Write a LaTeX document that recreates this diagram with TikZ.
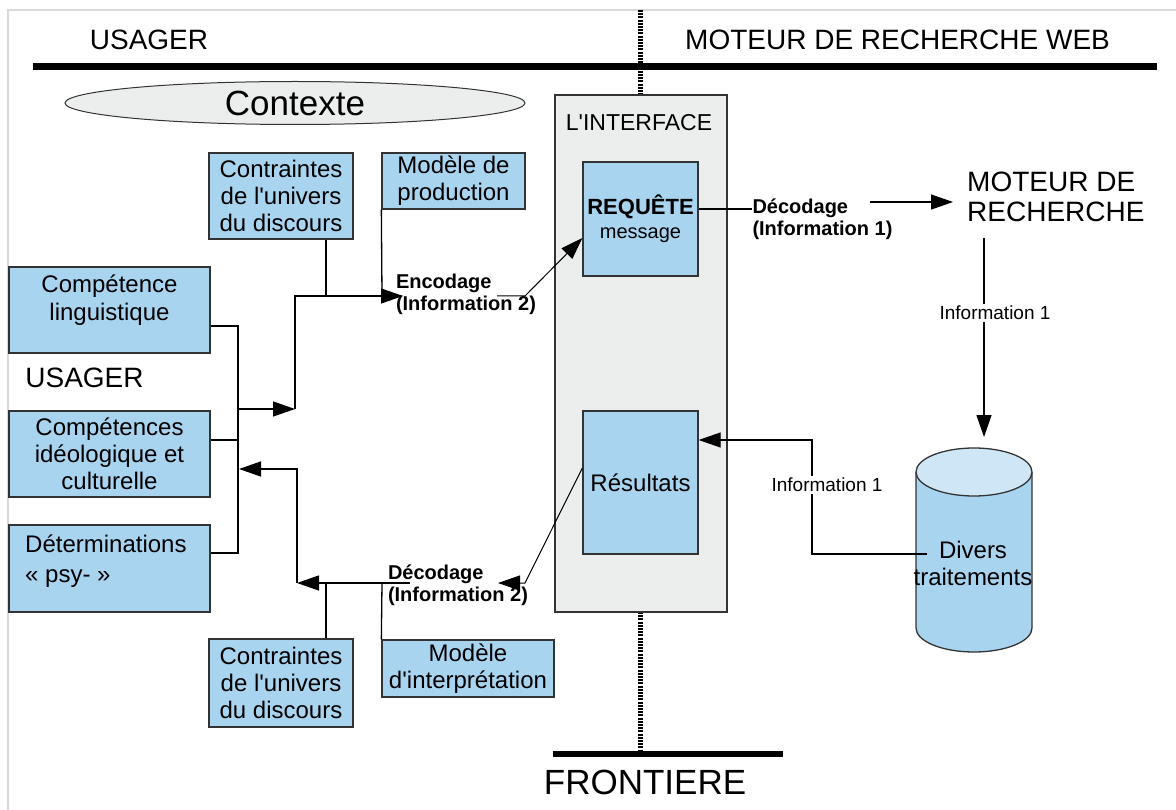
\documentclass[tikz,border=0pt]{standalone}
\usepackage{fontspec}
\setmainfont{Liberation Sans}[Ligatures=TeXOff]
\usetikzlibrary{arrows.meta,shapes.geometric}
\definecolor{boxblue}{RGB}{168,212,240}
\definecolor{cyltop}{RGB}{206,230,246}
\definecolor{ifgray}{RGB}{236,237,237}

\begin{document}
\begin{tikzpicture}[x=1pt,y=-1pt,
    box/.style={draw=black!80, line width=1.3pt, fill=boxblue, inner sep=0pt,
      align=center, font=\fontsize{24}{27}\selectfont},
    txt/.style={inner sep=0pt, align=center, font=\fontsize{24}{28}\selectfont},
    lbl/.style={inner sep=0pt, align=left, font=\fontsize{20}{22}\selectfont\bfseries},
    info/.style={inner sep=2pt, fill=white, font=\fontsize{19}{21}\selectfont},
    title/.style={inner sep=0pt, font=\fontsize{28}{30}\selectfont},
    link/.style={line width=1.3pt},
    arr/.style={link, -{Triangle[length=22pt,width=15pt]}},
    wall/.style={line width=6pt},
    frontier/.style={line width=5pt, dash pattern=on 2pt off 1.2pt}]
  \useasboundingbox (0,0) rectangle (1176,810);
  \draw[black!15, line width=1.2pt] (8,810) -- (8,10) -- (1176,10);

  % titres et frontiere
  \node[title] (usager) at (149,40) {USAGER};
  \node[title, anchor=west] (web) at (685,40) {MOTEUR DE RECHERCHE WEB};
  \draw[frontier] (640,10) -- (640,95);
  \draw[line width=7pt] (33,67) -- (1157,67);
  \draw[frontier] (640,612) -- (640,752);
  \draw[wall] (553,754) -- (783,754);
  \node[inner sep=0pt, font=\fontsize{35}{35}\selectfont] (front) at (645,782) {FRONTIERE};

  \node[ellipse, draw=black!80, line width=1pt, fill=ifgray, minimum width=460pt,
    minimum height=43pt, inner sep=0pt, font=\fontsize{35}{35}\selectfont] (ctx) at (295,103) {Contexte};

  % interface
  \node[draw=black!80, line width=1.3pt, fill=ifgray, minimum width=172pt,
    minimum height=517pt, inner sep=0pt] (iface) at (641,353.5) {};
  \node[inner sep=0pt, font=\fontsize{23}{23}\selectfont] (ifacetitle) at (639,123) {L'INTERFACE};
  \node[box, minimum width=115pt, minimum height=114pt, font=\fontsize{22}{24}\selectfont]
    (requete) at (640.5,219) {\textbf{REQUÊTE}\\{\fontsize{20}{24}\selectfont message}};
  \node[box, minimum width=115pt, minimum height=143pt] (result) at (640.5,482.5) {Résultats};

  % usager
  \node[title] (usager2) at (84.5,378) {USAGER};
  \node[box, minimum width=201pt, minimum height=86pt] (ling) at (109.5,310) {};
  \node[txt, anchor=north] (lingtxt) at (109.5,275) {Compétence\\linguistique};
  \node[box, minimum width=201pt, minimum height=86pt] (ideo) at (109.5,454)
    {Compétences\\idéologique et\\culturelle};
  \node[box, minimum width=201pt, minimum height=87pt] (determ) at (109.5,568.5) {};
  \node[txt, anchor=north west, align=left, font=\fontsize{24}{30}\selectfont]
    (determtxt) at (25,535) {Déterminations\\« psy- »};

  \node[box, minimum width=144pt, minimum height=86pt] (cutop) at (281,196)
    {Contraintes\\de l'univers\\du discours};
  \node[box, minimum width=143pt, minimum height=56pt] (modprod) at (453.5,181)
    {Modèle de\\production};
  \node[box, minimum width=144pt, minimum height=88pt] (cubot) at (281,683)
    {Contraintes\\de l'univers\\du discours};
  \node[box, minimum width=172pt, minimum height=57pt] (modint) at (468,668.5)
    {Modèle\\d'interprétation};

  \node[lbl] (enc) at (466,294) {Encodage\\(Information 2)};
  \node[lbl] (dec2) at (458,585) {Décodage\\(Information 2)};
  \node[lbl] (dec1) at (822.5,219) {Décodage\\(Information 1)};

  % moteur
  \node[title, anchor=west, align=left] (moteur) at (967,197) {MOTEUR DE\\RECHERCHE};
  \path[fill=boxblue, draw=black!80, line width=1.3pt] (916,472) -- (916,628)
    arc[start angle=180, end angle=0, x radius=58, y radius=24] -- (1032,472);
  \draw[fill=cyltop, draw=black!80, line width=1.3pt] (974,472) ellipse[x radius=58, y radius=24];
  \node[txt, font=\fontsize{24}{27}\selectfont] (trait) at (973,563) {Divers\\traitements};

  \coordinate (jl) at (238,409);
  \coordinate (jr) at (239,469);
  \coordinate (e2) at (403,296);
  \coordinate (d2) at (498,583);
  \coordinate (d1) at (870,202);
  \coordinate (mr) at (984,238);
  \coordinate (cylin) at (984,437);
  \coordinate (dv) at (927,554);

  % connecteurs
  \draw[link] (ling.east |- 0,326) -- (238,326) -- (238,553) -- (determ.east |- 0,553);
  \draw[link] (ideo.east |- 0,440) -- (238,440);
  \draw[arr] (jl) -- (295,409);
  \draw[arr] (295,409) -- (295,296) -- (e2);
  \draw[link] (326,0 |- cutop.south) -- (326,296);
  \draw[link] (modprod.south west) -- (382,296);
  \draw[arr, line width=1pt] (497,296) -- (525,296) -- (requete.west |- 0,238);

  \draw[arr, line width=1pt] (result.west |- 0,468) -- (525,583) -- (d2);
  \draw[arr] (410,583) -- (297,583);
  \draw[arr] (297,583) -- (297,469) -- (jr);
  \draw[link] (326,0 |- cubot.north) -- (326,583);
  \draw[link] (modint.north west) -- (382,583);

  \draw[link] (requete.east |- 0,209) -- (dec1.west |- 0,209);
  \draw[arr] (d1) -- (moteur.west |- d1) [shorten >=14pt];
  \draw[arr] (mr) -- (cylin);
  \node[info] (info1) at (995,313) {Information 1};
  \draw[arr] (dv) -- (812,554) -- (812,440) -- (result.east |- 0,440);
  \node[info] (info2) at (827,485) {Information 1};
\end{tikzpicture}
\end{document}
